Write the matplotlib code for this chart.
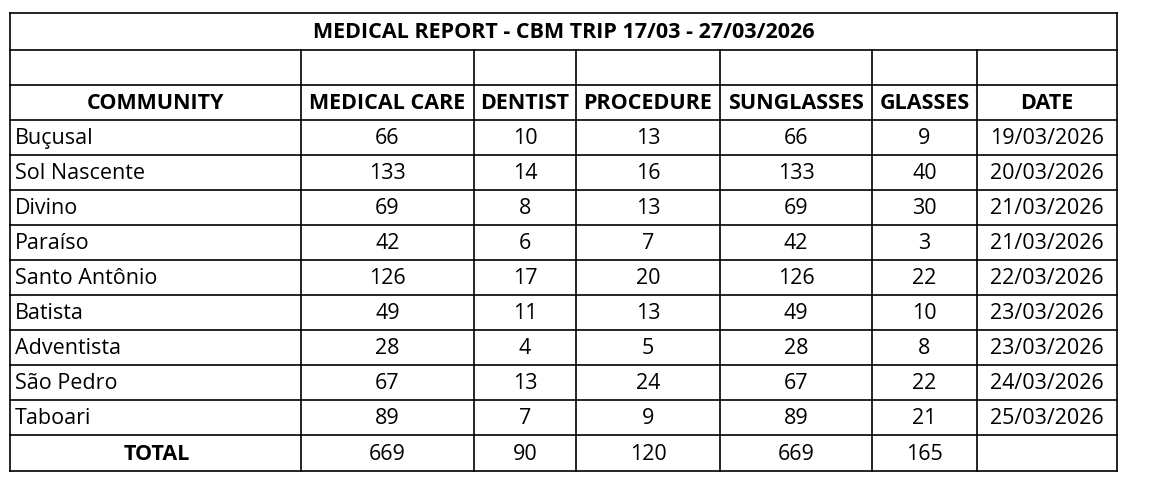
import matplotlib.pyplot as plt

title = "MEDICAL REPORT - CBM TRIP 17/03 - 27/03/2026"
headers = ["COMMUNITY", "MEDICAL CARE", "DENTIST", "PROCEDURE", "SUNGLASSES", "GLASSES", "DATE"]
communities = ["Buçusal", "Sol Nascente", "Divino", "Paraíso", "Santo Antônio",
               "Batista", "Adventista", "São Pedro", "Taboari"]
medical_care = [66, 133, 69, 42, 126, 49, 28, 67, 89]
dentist = [10, 14, 8, 6, 17, 11, 4, 13, 7]
procedure = [13, 16, 13, 7, 20, 13, 5, 24, 9]
sunglasses = [66, 133, 69, 42, 126, 49, 28, 67, 89]
glasses = [9, 40, 30, 3, 22, 10, 8, 22, 21]
dates = ["19/03/2026", "20/03/2026", "21/03/2026", "21/03/2026", "22/03/2026",
         "23/03/2026", "23/03/2026", "24/03/2026", "25/03/2026"]

# column edges and row edges in pixels
col_x = [10, 301, 474, 576, 720, 872, 977, 1117]
row_y = [13, 50, 85, 120] + [120 + 35 * (i + 1) for i in range(9)] + [471]

plt.rcParams['font.family'] = ['Open Sans', 'DejaVu Sans']
fig = plt.figure(figsize=(11.62, 4.94), dpi=100)
ax = fig.add_axes([0, 0, 1, 1])
ax.set_xlim(0, 1162)
ax.set_ylim(494, 0)
ax.axis('off')

lw = 1.2
# horizontal lines
for y in row_y:
    ax.plot([col_x[0], col_x[-1]], [y, y], color='black', lw=lw)
# outer verticals
for x in (col_x[0], col_x[-1]):
    ax.plot([x, x], [row_y[0], row_y[-1]], color='black', lw=lw)
# inner verticals (below title row)
for x in col_x[1:-1]:
    ax.plot([x, x], [row_y[1], row_y[-1]], color='black', lw=lw)

fs = 15.5
hfs = 15.5
ax.text((col_x[0] + col_x[-1]) / 2, (row_y[0] + row_y[1]) / 2 + 1, title,
        ha='center', va='center', fontsize=hfs, fontweight='bold')

def mid(a, b):
    return (a + b) / 2

for j, h in enumerate(headers):
    ax.text(mid(col_x[j], col_x[j + 1]), mid(row_y[2], row_y[3]) + 1, h,
            ha='center', va='center', fontsize=hfs, fontweight='bold')

columns = [medical_care, dentist, procedure, sunglasses, glasses, dates]
for i, name in enumerate(communities):
    yc = mid(row_y[3 + i], row_y[4 + i]) + 1
    ax.text(col_x[0] + 5, yc, name, ha='left', va='center', fontsize=fs)
    for j, col in enumerate(columns):
        ax.text(mid(col_x[j + 1], col_x[j + 2]), yc, str(col[i]),
                ha='center', va='center', fontsize=fs)

yt = mid(row_y[-2], row_y[-1]) + 1
ax.text(157, yt, "TOTAL", ha='center', va='center', fontsize=hfs, fontweight='bold')
totals = [sum(medical_care), sum(dentist), sum(procedure), sum(sunglasses), sum(glasses)]
for j, t in enumerate(totals):
    ax.text(mid(col_x[j + 1], col_x[j + 2]), yt, str(t), ha='center', va='center', fontsize=fs)

fig.savefig("out.png", dpi=100, facecolor='white')
